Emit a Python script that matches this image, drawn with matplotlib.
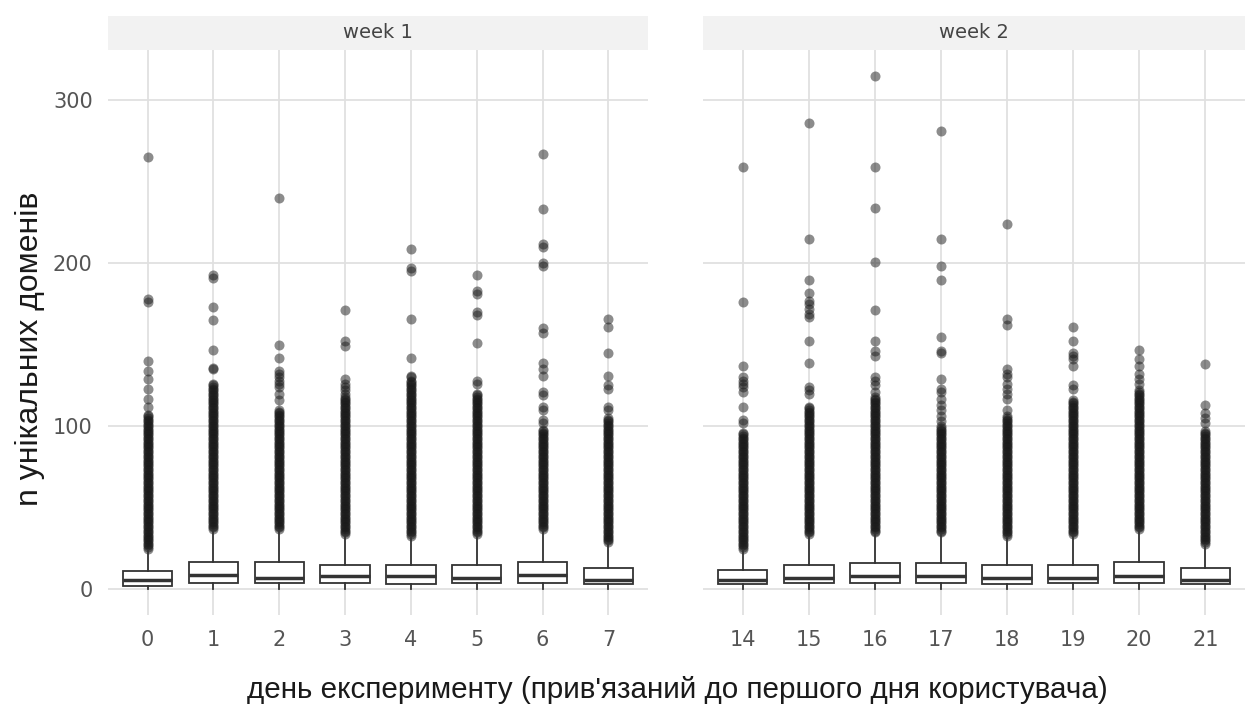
import matplotlib
matplotlib.use('Agg')
import matplotlib.pyplot as plt
import numpy as np

# ---- data ----
days_w1 = [0, 1, 2, 3, 4, 5, 6, 7]
days_w2 = [14, 15, 16, 17, 18, 19, 20, 21]

q1_w1 = [2, 4, 4, 4, 3, 4, 4, 3]
med_w1 = [6, 9, 7, 8, 8, 7, 9, 6]
q3_w1 = [11, 17, 17, 15, 15, 15, 17, 13]
whislo_w1 = [0, 0, 0, 0, 0, 0, 0, 0]
whishi_w1 = [24, 36, 36, 33, 32, 33, 36, 28]
dense_top_w1 = [107, 126, 110, 118, 128, 120, 98, 105]
sparse_w1 = [
    [265, 178, 176, 140, 134, 129, 123, 117, 112],
    [193, 191, 173, 165, 147, 136, 135],
    [240, 150, 142, 134, 132, 130, 128, 126, 124, 120, 116],
    [171, 152, 149, 129, 126, 124, 122, 120],
    [209, 197, 195, 166, 142, 131, 130],
    [193, 183, 181, 170, 168, 151, 128, 126],
    [267, 233, 212, 210, 200, 198, 160, 157, 139, 135, 131, 121, 119, 112, 110, 104, 102],
    [166, 161, 145, 131, 125, 123, 112, 110],
]

q1_w2 = [3, 4, 4, 4, 3, 4, 4, 3]
med_w2 = [6, 7, 8, 8, 7, 7, 8, 6]
q3_w2 = [12, 15, 16, 16, 15, 15, 17, 13]
whislo_w2 = [0, 0, 0, 0, 0, 0, 0, 0]
whishi_w2 = [24, 33, 34, 34, 32, 33, 36, 27]
dense_top_w2 = [96, 112, 118, 100, 106, 116, 122, 97]
sparse_w2 = [
    [259, 176, 137, 130, 128, 126, 124, 121, 112, 104, 102],
    [286, 215, 190, 182, 177, 175, 172, 169, 167, 152, 139, 124, 122, 120],
    [315, 259, 234, 201, 171, 152, 146, 143, 130, 128, 125, 121],
    [281, 215, 198, 190, 155, 146, 145, 129, 123, 121, 117, 113, 110, 106, 103],
    [224, 166, 162, 135, 132, 130, 126, 123, 120, 117, 110],
    [161, 152, 145, 143, 141, 137, 125, 123],
    [147, 141, 137, 132, 129, 126],
    [138, 113, 108, 105, 102],
]

weeks = ['week 1', 'week 2']

TICK_FONT = ['DejaVu Sans']
TITLE_FONT = ['Liberation Sans', 'DejaVu Sans']
GRID_C = '#e0e0e0'
BOX_C = '#333333'

W, H = 1245, 707
fig = plt.figure(figsize=(W / 100, H / 100), dpi=100)

panel_top, panel_bot = 50, 615
panels = [(108, 648), (703, 1245)]
strip_top = 16


def draw_panel(ax, days, q1, med, q3, wlo, whi, dense_top, sparse):
    pos = list(range(1, len(days) + 1))
    stats = []
    for i in range(len(days)):
        stats.append(dict(q1=q1[i], med=med[i], q3=q3[i], whislo=wlo[i], whishi=whi[i]))
    # outliers: integer counts above the whisker, dense part + sparse tail
    for p, hi, top, extra in zip(pos, whi, dense_top, sparse):
        vals = np.concatenate([np.arange(hi + 1, top + 1), np.array(extra, dtype=float)])
        ax.scatter(np.full(len(vals), p), vals, s=52, color='#1a1a1a', alpha=0.5,
                   linewidths=0, zorder=2)
    ax.bxp(stats, positions=pos, widths=0.75, showfliers=False, showcaps=False,
           patch_artist=True,
           boxprops=dict(facecolor='white', edgecolor=BOX_C, linewidth=1.3),
           medianprops=dict(color=BOX_C, linewidth=2.5),
           whiskerprops=dict(color=BOX_C, linewidth=1.3),
           zorder=3)
    ax.set_xlim(0.4, len(days) + 0.6)
    ax.set_ylim(-15.75, 330.75)
    ax.set_xticks(pos)
    ax.set_xticklabels([str(d) for d in days])
    ax.set_yticks([0, 100, 200, 300])
    ax.grid(True, color=GRID_C, linewidth=1.3)
    ax.set_axisbelow(True)
    for s in ax.spines.values():
        s.set_visible(False)
    ax.tick_params(length=0, labelsize=15, labelcolor='#555555')
    ax.tick_params(axis='x', pad=11)
    ax.tick_params(axis='y', pad=11)
    for lab in ax.get_xticklabels() + ax.get_yticklabels():
        lab.set_family(TICK_FONT)


data = [
    (days_w1, q1_w1, med_w1, q3_w1, whislo_w1, whishi_w1, dense_top_w1, sparse_w1),
    (days_w2, q1_w2, med_w2, q3_w2, whislo_w2, whishi_w2, dense_top_w2, sparse_w2),
]

axes = []
for k, (x0, x1) in enumerate(panels):
    ax = fig.add_axes([x0 / W, (H - panel_bot) / H, (x1 - x0) / W, (panel_bot - panel_top) / H])
    draw_panel(ax, *data[k])
    if k == 1:
        ax.tick_params(axis='y', labelleft=False)
    # facet strip
    sax = fig.add_axes([x0 / W, (H - panel_top) / H, (x1 - x0) / W, (panel_top - strip_top) / H])
    sax.set_facecolor('#f2f2f2')
    sax.set_xticks([])
    sax.set_yticks([])
    for s in sax.spines.values():
        s.set_visible(False)
    sax.text(0.5, 0.5, weeks[k], ha='center', va='center', fontsize=14,
             color='#444444', family=TICK_FONT, transform=sax.transAxes)
    axes.append(ax)

fig.text(677 / W, 1 - 690 / H, "день експерименту (прив'язаний до першого дня користувача)",
         ha='center', va='center', fontsize=21.3, color='#1a1a1a', family=TITLE_FONT)
fig.text(30 / W, 1 - 349 / H, 'n унікальних доменів', rotation=90,
         ha='center', va='center', fontsize=23, color='#1a1a1a', family=TITLE_FONT)

plt.savefig('out.png', dpi=100)
